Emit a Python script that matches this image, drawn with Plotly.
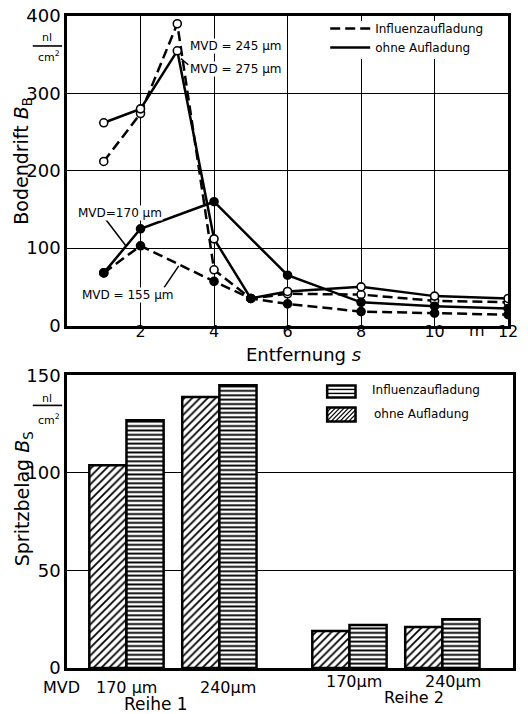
import plotly.graph_objects as go

# --- Bodendrift over distance (top panel) ---
distance = [1, 2, 3, 4, 5, 6, 8, 10, 12]
drift_245 = [212, 274, 390, 72, 35, 41, 40, 32, 30]    # Influenzaufladung, MVD = 245 µm
drift_275 = [262, 280, 355, 112, 35, 44, 50, 38, 35]   # ohne Aufladung, MVD = 275 µm
distance_170 = [1, 2, 4, 6, 8, 10, 12]
drift_170 = [68, 125, 160, 65, 30, 25, 22]             # ohne Aufladung, MVD = 170 µm
distance_155 = [1, 2, 4, 5, 6, 8, 10, 12]
drift_155 = [68, 103, 57, 35, 28, 18, 16, 14]          # Influenzaufladung, MVD = 155 µm
distance_ticks = [2, 4, 6, 8, 10, 12]
drift_ticks = [0, 100, 200, 300, 400]

# --- Spritzbelag (bottom panel) ---
mvd_labels = ["170 µm", "240µm", "170µm", "240µm"]
row_labels = ["Reihe 1", "Reihe 2"]
coat_influenz = [127, 145, 22, 25]
coat_ohne = [104, 139, 19, 21]
coat_ticks = [0, 50, 100, 150]

# page geometry (pixels)
W, H = 528, 714
L, R, T, B = 67, 5, 15, 46
PW, PH = W - L - R, H - T - B


def px(xp):
    return (xp - L) / PW


def py(yp):
    return (H - B - yp) / PH


FONT = "DejaVu Sans"
DASH = "10px,5px"
LW = 2.5

fig = go.Figure()


def line_trace(x, y, dash, filled):
    return go.Scatter(
        x=x, y=y, mode="lines+markers", showlegend=False,
        line=dict(color="black", width=LW, dash=dash),
        marker=dict(symbol="circle", size=8,
                    color="black" if filled else "white",
                    line=dict(color="black", width=1.6)),
        xaxis="x", yaxis="y", hoverinfo="skip",
    )


fig.add_trace(line_trace(distance, drift_245, DASH, False))
fig.add_trace(line_trace(distance, drift_275, "solid", False))
fig.add_trace(line_trace(distance_155, drift_155, DASH, True))
fig.add_trace(line_trace(distance_170, drift_170, "solid", True))

# legend entries for the line styles
for name, dash in [("Influenzaufladung", DASH), ("ohne Aufladung", "solid")]:
    fig.add_trace(go.Scatter(
        x=[None], y=[None], mode="lines", name=name,
        line=dict(color="black", width=LW, dash=dash),
        xaxis="x", yaxis="y", legend="legend",
    ))

# bars: hatched = ohne Aufladung (left), horizontal lines = Influenzaufladung (right)
group_pos = [1.6, 4.1, 7.6, 10.1]
bar_line = dict(color="black", width=LW)
fig.add_trace(go.Bar(
    x=group_pos, y=coat_ohne, width=1, offset=-1, showlegend=False,
    marker=dict(color="white", line=bar_line,
                pattern=dict(shape="/", size=5.5, solidity=0.33,
                             fgcolor="black", bgcolor="white", fgopacity=1)),
    xaxis="x2", yaxis="y2", hoverinfo="skip",
))
fig.add_trace(go.Bar(
    x=group_pos, y=coat_influenz, width=1, offset=0, showlegend=False,
    marker=dict(color="white", line=bar_line,
                pattern=dict(shape="-", size=4.4, solidity=0.42,
                             fgcolor="black", bgcolor="white", fgopacity=1)),
    xaxis="x2", yaxis="y2", hoverinfo="skip",
))

axis_common = dict(
    showline=True, linecolor="black", linewidth=LW, mirror=True,
    gridcolor="black", gridwidth=1.3, zeroline=False, ticks="",
    tickfont=dict(family=FONT, size=18, color="black"),
)

annotations = []
shapes = []


def text(x, y, s, size=12, xanchor="center", angle=0, bg=None, xref="paper", yref="paper"):
    annotations.append(dict(
        x=x, y=y, xref=xref, yref=yref, text=s, showarrow=False,
        xanchor=xanchor, yanchor="middle", textangle=angle,
        font=dict(family=FONT, size=size, color="black"),
        bgcolor=bg, borderpad=0,
    ))


def seg(x0, y0, x1, y1, width=1.5, xref="paper", yref="paper"):
    shapes.append(dict(type="line", x0=x0, y0=y0, x1=x1, y1=y1,
                       xref=xref, yref=yref,
                       line=dict(color="black", width=width)))


# white panel behind the line legend, hiding the grid there
shapes.append(dict(type="rect", xref="paper", yref="paper", layer="above",
                   x0=px(328), x1=px(508), y0=py(58), y1=py(20),
                   line=dict(width=0), fillcolor="white"))

# axis titles and units
text(px(22), py(160), "Bodendrift <i>B</i><sub>B</sub>", size=19, angle=-90)
text(px(22), py(498), "Spritzbelag <i>B</i><sub>S</sub>", size=19, angle=-90)
for y_nl, y_bar, y_cm in [(37, 45, 56), (398, 405, 419)]:
    text(px(47), py(y_nl), "nl", size=11)
    seg(px(32), py(y_bar), px(62), py(y_bar), width=1.6)
    text(px(49), py(y_cm), "cm<sup>2</sup>", size=11)
text(px(309), py(354), "Entfernung <i>s</i>", size=18)
text(px(486), py(330), "m", size=16)

# series labels in the top panel
text(3.33, 361, "MVD = 245 µm", size=12, xanchor="left", bg="white", xref="x", yref="y")
text(3.33, 332, "MVD = 275 µm", size=12, xanchor="left", bg="white", xref="x", yref="y")
text(0.27, 146, "MVD=170 µm", size=12, xanchor="left", bg="white", xref="x", yref="y")
text(0.37, 39, "MVD = 155 µm", size=12, xanchor="left", bg="white", xref="x", yref="y")
seg(1.04, 138, 1.6, 103, xref="x", yref="y")
seg(2.64, 49, 3.04, 77, xref="x", yref="y")
seg(3.3, 337, 3.1, 345, xref="x", yref="y")

# category labels under the bars
text(px(61), py(688), "MVD", size=16)
label_shift = [0, 9, 5, 11]
label_y = [688, 688, 682, 682]
for pos, lab, dx, yy in zip(group_pos, mvd_labels, label_shift, label_y):
    annotations.append(dict(
        x=pos, y=py(yy), xref="x2", yref="paper", text=lab, showarrow=False,
        xshift=dx, yanchor="middle",
        font=dict(family=FONT, size=16, color="black"),
    ))
text(px(158), py(704), row_labels[0], size=17)
text(px(422), py(698), row_labels[1], size=16)

# bar legend swatches
sx0, sx1 = 333, 362
# horizontal-line swatch
hy0, hy1 = 385, 397
shapes.append(dict(type="rect", xref="paper", yref="paper",
                   x0=px(sx0), x1=px(sx1), y0=py(hy1), y1=py(hy0),
                   line=dict(color="black", width=LW), fillcolor="white"))
for yy in [389, 393]:
    seg(px(sx0), py(yy), px(sx1), py(yy), width=1.4)
# diagonal swatch
dy0, dy1 = 407, 421
shapes.append(dict(type="rect", xref="paper", yref="paper",
                   x0=px(sx0), x1=px(sx1), y0=py(dy1), y1=py(dy0),
                   line=dict(color="black", width=LW), fillcolor="white"))
hh = dy1 - dy0
u = sx0 - hh
while u < sx1:
    t0 = max(0.0, (sx0 - u) / hh)
    t1 = min(1.0, (sx1 - u) / hh)
    if t1 > t0:
        seg(px(u + hh * t0), py(dy1 - hh * t0), px(u + hh * t1), py(dy1 - hh * t1), width=1.3)
    u += 4.5
text(px(378), py(390), "Influenzaufladung", size=12, xanchor="left")
text(px(380), py(414), "ohne Aufladung", size=12, xanchor="left")

fig.update_layout(
    width=W, height=H,
    margin=dict(l=L, r=R, t=T, b=B),
    paper_bgcolor="white", plot_bgcolor="white",
    font=dict(family=FONT, color="black"),
    barmode="overlay",
    xaxis=dict(axis_common, domain=[0, 451 / PW], range=[0, 12],
               tickvals=distance_ticks, showgrid=True, anchor="y",
               ticklabelstandoff=-10,
               tickfont=dict(family=FONT, size=16, color="black")),
    yaxis=dict(axis_common, domain=[py(325), py(15)], range=[0, 400],
               tickvals=drift_ticks, showgrid=True, anchor="x"),
    xaxis2=dict(axis_common, domain=[0, 1], range=[0, 12],
                showticklabels=False, showgrid=False, anchor="y2"),
    yaxis2=dict(axis_common, domain=[0, py(375)], range=[0, 150],
                tickvals=coat_ticks, showgrid=True, anchor="x2"),
    legend=dict(x=px(331), y=py(13), xanchor="left", yanchor="top",
                bgcolor="rgba(0,0,0,0)", borderwidth=0,
                font=dict(family=FONT, size=12, color="black"),
                itemwidth=40, tracegroupgap=0),
    annotations=annotations,
    shapes=shapes,
)

fig.write_html("out.html")
